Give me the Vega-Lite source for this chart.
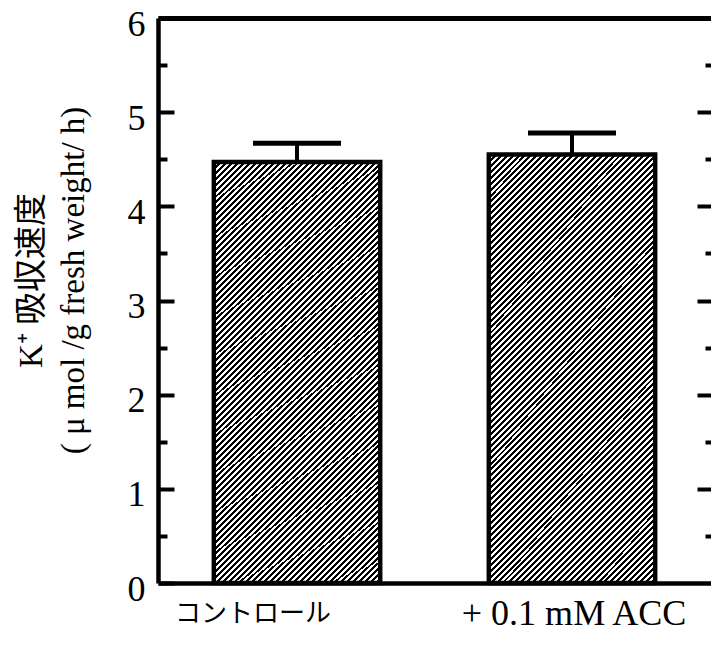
{
"$schema": "https://vega.github.io/schema/vega-lite/v6.json",
"autosize": {"type": "none"},
"width": 553,
"height": 565,
"padding": {"left": 158, "top": 18, "right": 0, "bottom": 62},
"background": "white",
"config": {"view": {"stroke": null}, "axis": {"labelFont": "Liberation Serif, Noto Sans CJK JP", "titleFont": "Liberation Serif, Noto Sans CJK JP", "labelColor": "black", "titleColor": "black", "domainColor": "black", "tickColor": "black", "grid": false}},
"data": {"values": [
  {"cond": "コントロール", "mean": 4.47, "upper": 4.67},
  {"cond": "+ 0.1 mM ACC", "mean": 4.55, "upper": 4.78}
]},
"layer": [
 {"mark": {"type": "bar", "stroke": "black", "strokeWidth": 4.5,
   "fill": {"gradient": "linear", "x1": 0, "y1": 0, "x2": 0.47, "y2": 1.207, "stops": [
{"offset":0,"color":"#000"},{"offset":0.005,"color":"#000"},{"offset":0.005,"color":"#fff"},{"offset":0.01,"color":"#fff"},
{"offset":0.01,"color":"#000"},{"offset":0.015,"color":"#000"},{"offset":0.015,"color":"#fff"},{"offset":0.02,"color":"#fff"},
{"offset":0.02,"color":"#000"},{"offset":0.025,"color":"#000"},{"offset":0.025,"color":"#fff"},{"offset":0.03,"color":"#fff"},
{"offset":0.03,"color":"#000"},{"offset":0.035,"color":"#000"},{"offset":0.035,"color":"#fff"},{"offset":0.04,"color":"#fff"},
{"offset":0.04,"color":"#000"},{"offset":0.045,"color":"#000"},{"offset":0.045,"color":"#fff"},{"offset":0.05,"color":"#fff"},
{"offset":0.05,"color":"#000"},{"offset":0.055,"color":"#000"},{"offset":0.055,"color":"#fff"},{"offset":0.06,"color":"#fff"},
{"offset":0.06,"color":"#000"},{"offset":0.065,"color":"#000"},{"offset":0.065,"color":"#fff"},{"offset":0.07,"color":"#fff"},
{"offset":0.07,"color":"#000"},{"offset":0.075,"color":"#000"},{"offset":0.075,"color":"#fff"},{"offset":0.08,"color":"#fff"},
{"offset":0.08,"color":"#000"},{"offset":0.085,"color":"#000"},{"offset":0.085,"color":"#fff"},{"offset":0.09,"color":"#fff"},
{"offset":0.09,"color":"#000"},{"offset":0.095,"color":"#000"},{"offset":0.095,"color":"#fff"},{"offset":0.1,"color":"#fff"},
{"offset":0.1,"color":"#000"},{"offset":0.105,"color":"#000"},{"offset":0.105,"color":"#fff"},{"offset":0.11,"color":"#fff"},
{"offset":0.11,"color":"#000"},{"offset":0.115,"color":"#000"},{"offset":0.115,"color":"#fff"},{"offset":0.12,"color":"#fff"},
{"offset":0.12,"color":"#000"},{"offset":0.125,"color":"#000"},{"offset":0.125,"color":"#fff"},{"offset":0.13,"color":"#fff"},
{"offset":0.13,"color":"#000"},{"offset":0.135,"color":"#000"},{"offset":0.135,"color":"#fff"},{"offset":0.14,"color":"#fff"},
{"offset":0.14,"color":"#000"},{"offset":0.145,"color":"#000"},{"offset":0.145,"color":"#fff"},{"offset":0.15,"color":"#fff"},
{"offset":0.15,"color":"#000"},{"offset":0.155,"color":"#000"},{"offset":0.155,"color":"#fff"},{"offset":0.16,"color":"#fff"},
{"offset":0.16,"color":"#000"},{"offset":0.165,"color":"#000"},{"offset":0.165,"color":"#fff"},{"offset":0.17,"color":"#fff"},
{"offset":0.17,"color":"#000"},{"offset":0.175,"color":"#000"},{"offset":0.175,"color":"#fff"},{"offset":0.18,"color":"#fff"},
{"offset":0.18,"color":"#000"},{"offset":0.185,"color":"#000"},{"offset":0.185,"color":"#fff"},{"offset":0.19,"color":"#fff"},
{"offset":0.19,"color":"#000"},{"offset":0.195,"color":"#000"},{"offset":0.195,"color":"#fff"},{"offset":0.2,"color":"#fff"},
{"offset":0.2,"color":"#000"},{"offset":0.205,"color":"#000"},{"offset":0.205,"color":"#fff"},{"offset":0.21,"color":"#fff"},
{"offset":0.21,"color":"#000"},{"offset":0.215,"color":"#000"},{"offset":0.215,"color":"#fff"},{"offset":0.22,"color":"#fff"},
{"offset":0.22,"color":"#000"},{"offset":0.225,"color":"#000"},{"offset":0.225,"color":"#fff"},{"offset":0.23,"color":"#fff"},
{"offset":0.23,"color":"#000"},{"offset":0.235,"color":"#000"},{"offset":0.235,"color":"#fff"},{"offset":0.24,"color":"#fff"},
{"offset":0.24,"color":"#000"},{"offset":0.245,"color":"#000"},{"offset":0.245,"color":"#fff"},{"offset":0.25,"color":"#fff"},
{"offset":0.25,"color":"#000"},{"offset":0.255,"color":"#000"},{"offset":0.255,"color":"#fff"},{"offset":0.26,"color":"#fff"},
{"offset":0.26,"color":"#000"},{"offset":0.265,"color":"#000"},{"offset":0.265,"color":"#fff"},{"offset":0.27,"color":"#fff"},
{"offset":0.27,"color":"#000"},{"offset":0.275,"color":"#000"},{"offset":0.275,"color":"#fff"},{"offset":0.28,"color":"#fff"},
{"offset":0.28,"color":"#000"},{"offset":0.285,"color":"#000"},{"offset":0.285,"color":"#fff"},{"offset":0.29,"color":"#fff"},
{"offset":0.29,"color":"#000"},{"offset":0.295,"color":"#000"},{"offset":0.295,"color":"#fff"},{"offset":0.3,"color":"#fff"},
{"offset":0.3,"color":"#000"},{"offset":0.305,"color":"#000"},{"offset":0.305,"color":"#fff"},{"offset":0.31,"color":"#fff"},
{"offset":0.31,"color":"#000"},{"offset":0.315,"color":"#000"},{"offset":0.315,"color":"#fff"},{"offset":0.32,"color":"#fff"},
{"offset":0.32,"color":"#000"},{"offset":0.325,"color":"#000"},{"offset":0.325,"color":"#fff"},{"offset":0.33,"color":"#fff"},
{"offset":0.33,"color":"#000"},{"offset":0.335,"color":"#000"},{"offset":0.335,"color":"#fff"},{"offset":0.34,"color":"#fff"},
{"offset":0.34,"color":"#000"},{"offset":0.345,"color":"#000"},{"offset":0.345,"color":"#fff"},{"offset":0.35,"color":"#fff"},
{"offset":0.35,"color":"#000"},{"offset":0.355,"color":"#000"},{"offset":0.355,"color":"#fff"},{"offset":0.36,"color":"#fff"},
{"offset":0.36,"color":"#000"},{"offset":0.365,"color":"#000"},{"offset":0.365,"color":"#fff"},{"offset":0.37,"color":"#fff"},
{"offset":0.37,"color":"#000"},{"offset":0.375,"color":"#000"},{"offset":0.375,"color":"#fff"},{"offset":0.38,"color":"#fff"},
{"offset":0.38,"color":"#000"},{"offset":0.385,"color":"#000"},{"offset":0.385,"color":"#fff"},{"offset":0.39,"color":"#fff"},
{"offset":0.39,"color":"#000"},{"offset":0.395,"color":"#000"},{"offset":0.395,"color":"#fff"},{"offset":0.4,"color":"#fff"},
{"offset":0.4,"color":"#000"},{"offset":0.405,"color":"#000"},{"offset":0.405,"color":"#fff"},{"offset":0.41,"color":"#fff"},
{"offset":0.41,"color":"#000"},{"offset":0.415,"color":"#000"},{"offset":0.415,"color":"#fff"},{"offset":0.42,"color":"#fff"},
{"offset":0.42,"color":"#000"},{"offset":0.425,"color":"#000"},{"offset":0.425,"color":"#fff"},{"offset":0.43,"color":"#fff"},
{"offset":0.43,"color":"#000"},{"offset":0.435,"color":"#000"},{"offset":0.435,"color":"#fff"},{"offset":0.44,"color":"#fff"},
{"offset":0.44,"color":"#000"},{"offset":0.445,"color":"#000"},{"offset":0.445,"color":"#fff"},{"offset":0.45,"color":"#fff"},
{"offset":0.45,"color":"#000"},{"offset":0.455,"color":"#000"},{"offset":0.455,"color":"#fff"},{"offset":0.46,"color":"#fff"},
{"offset":0.46,"color":"#000"},{"offset":0.465,"color":"#000"},{"offset":0.465,"color":"#fff"},{"offset":0.47,"color":"#fff"},
{"offset":0.47,"color":"#000"},{"offset":0.475,"color":"#000"},{"offset":0.475,"color":"#fff"},{"offset":0.48,"color":"#fff"},
{"offset":0.48,"color":"#000"},{"offset":0.485,"color":"#000"},{"offset":0.485,"color":"#fff"},{"offset":0.49,"color":"#fff"},
{"offset":0.49,"color":"#000"},{"offset":0.495,"color":"#000"},{"offset":0.495,"color":"#fff"},{"offset":0.5,"color":"#fff"},
{"offset":0.5,"color":"#000"},{"offset":0.505,"color":"#000"},{"offset":0.505,"color":"#fff"},{"offset":0.51,"color":"#fff"},
{"offset":0.51,"color":"#000"},{"offset":0.515,"color":"#000"},{"offset":0.515,"color":"#fff"},{"offset":0.52,"color":"#fff"},
{"offset":0.52,"color":"#000"},{"offset":0.525,"color":"#000"},{"offset":0.525,"color":"#fff"},{"offset":0.53,"color":"#fff"},
{"offset":0.53,"color":"#000"},{"offset":0.535,"color":"#000"},{"offset":0.535,"color":"#fff"},{"offset":0.54,"color":"#fff"},
{"offset":0.54,"color":"#000"},{"offset":0.545,"color":"#000"},{"offset":0.545,"color":"#fff"},{"offset":0.55,"color":"#fff"},
{"offset":0.55,"color":"#000"},{"offset":0.555,"color":"#000"},{"offset":0.555,"color":"#fff"},{"offset":0.56,"color":"#fff"},
{"offset":0.56,"color":"#000"},{"offset":0.565,"color":"#000"},{"offset":0.565,"color":"#fff"},{"offset":0.57,"color":"#fff"},
{"offset":0.57,"color":"#000"},{"offset":0.575,"color":"#000"},{"offset":0.575,"color":"#fff"},{"offset":0.58,"color":"#fff"},
{"offset":0.58,"color":"#000"},{"offset":0.585,"color":"#000"},{"offset":0.585,"color":"#fff"},{"offset":0.59,"color":"#fff"},
{"offset":0.59,"color":"#000"},{"offset":0.595,"color":"#000"},{"offset":0.595,"color":"#fff"},{"offset":0.6,"color":"#fff"},
{"offset":0.6,"color":"#000"},{"offset":0.605,"color":"#000"},{"offset":0.605,"color":"#fff"},{"offset":0.61,"color":"#fff"},
{"offset":0.61,"color":"#000"},{"offset":0.615,"color":"#000"},{"offset":0.615,"color":"#fff"},{"offset":0.62,"color":"#fff"},
{"offset":0.62,"color":"#000"},{"offset":0.625,"color":"#000"},{"offset":0.625,"color":"#fff"},{"offset":0.63,"color":"#fff"},
{"offset":0.63,"color":"#000"},{"offset":0.635,"color":"#000"},{"offset":0.635,"color":"#fff"},{"offset":0.64,"color":"#fff"},
{"offset":0.64,"color":"#000"},{"offset":0.645,"color":"#000"},{"offset":0.645,"color":"#fff"},{"offset":0.65,"color":"#fff"},
{"offset":0.65,"color":"#000"},{"offset":0.655,"color":"#000"},{"offset":0.655,"color":"#fff"},{"offset":0.66,"color":"#fff"},
{"offset":0.66,"color":"#000"},{"offset":0.665,"color":"#000"},{"offset":0.665,"color":"#fff"},{"offset":0.67,"color":"#fff"},
{"offset":0.67,"color":"#000"},{"offset":0.675,"color":"#000"},{"offset":0.675,"color":"#fff"},{"offset":0.68,"color":"#fff"},
{"offset":0.68,"color":"#000"},{"offset":0.685,"color":"#000"},{"offset":0.685,"color":"#fff"},{"offset":0.69,"color":"#fff"},
{"offset":0.69,"color":"#000"},{"offset":0.695,"color":"#000"},{"offset":0.695,"color":"#fff"},{"offset":0.7,"color":"#fff"},
{"offset":0.7,"color":"#000"},{"offset":0.705,"color":"#000"},{"offset":0.705,"color":"#fff"},{"offset":0.71,"color":"#fff"},
{"offset":0.71,"color":"#000"},{"offset":0.715,"color":"#000"},{"offset":0.715,"color":"#fff"},{"offset":0.72,"color":"#fff"},
{"offset":0.72,"color":"#000"},{"offset":0.725,"color":"#000"},{"offset":0.725,"color":"#fff"},{"offset":0.73,"color":"#fff"},
{"offset":0.73,"color":"#000"},{"offset":0.735,"color":"#000"},{"offset":0.735,"color":"#fff"},{"offset":0.74,"color":"#fff"},
{"offset":0.74,"color":"#000"},{"offset":0.745,"color":"#000"},{"offset":0.745,"color":"#fff"},{"offset":0.75,"color":"#fff"},
{"offset":0.75,"color":"#000"},{"offset":0.755,"color":"#000"},{"offset":0.755,"color":"#fff"},{"offset":0.76,"color":"#fff"},
{"offset":0.76,"color":"#000"},{"offset":0.765,"color":"#000"},{"offset":0.765,"color":"#fff"},{"offset":0.77,"color":"#fff"},
{"offset":0.77,"color":"#000"},{"offset":0.775,"color":"#000"},{"offset":0.775,"color":"#fff"},{"offset":0.78,"color":"#fff"},
{"offset":0.78,"color":"#000"},{"offset":0.785,"color":"#000"},{"offset":0.785,"color":"#fff"},{"offset":0.79,"color":"#fff"},
{"offset":0.79,"color":"#000"},{"offset":0.795,"color":"#000"},{"offset":0.795,"color":"#fff"},{"offset":0.8,"color":"#fff"},
{"offset":0.8,"color":"#000"},{"offset":0.805,"color":"#000"},{"offset":0.805,"color":"#fff"},{"offset":0.81,"color":"#fff"},
{"offset":0.81,"color":"#000"},{"offset":0.815,"color":"#000"},{"offset":0.815,"color":"#fff"},{"offset":0.82,"color":"#fff"},
{"offset":0.82,"color":"#000"},{"offset":0.825,"color":"#000"},{"offset":0.825,"color":"#fff"},{"offset":0.83,"color":"#fff"},
{"offset":0.83,"color":"#000"},{"offset":0.835,"color":"#000"},{"offset":0.835,"color":"#fff"},{"offset":0.84,"color":"#fff"},
{"offset":0.84,"color":"#000"},{"offset":0.845,"color":"#000"},{"offset":0.845,"color":"#fff"},{"offset":0.85,"color":"#fff"},
{"offset":0.85,"color":"#000"},{"offset":0.855,"color":"#000"},{"offset":0.855,"color":"#fff"},{"offset":0.86,"color":"#fff"},
{"offset":0.86,"color":"#000"},{"offset":0.865,"color":"#000"},{"offset":0.865,"color":"#fff"},{"offset":0.87,"color":"#fff"},
{"offset":0.87,"color":"#000"},{"offset":0.875,"color":"#000"},{"offset":0.875,"color":"#fff"},{"offset":0.88,"color":"#fff"},
{"offset":0.88,"color":"#000"},{"offset":0.885,"color":"#000"},{"offset":0.885,"color":"#fff"},{"offset":0.89,"color":"#fff"},
{"offset":0.89,"color":"#000"},{"offset":0.895,"color":"#000"},{"offset":0.895,"color":"#fff"},{"offset":0.9,"color":"#fff"},
{"offset":0.9,"color":"#000"},{"offset":0.905,"color":"#000"},{"offset":0.905,"color":"#fff"},{"offset":0.91,"color":"#fff"},
{"offset":0.91,"color":"#000"},{"offset":0.915,"color":"#000"},{"offset":0.915,"color":"#fff"},{"offset":0.92,"color":"#fff"},
{"offset":0.92,"color":"#000"},{"offset":0.925,"color":"#000"},{"offset":0.925,"color":"#fff"},{"offset":0.93,"color":"#fff"},
{"offset":0.93,"color":"#000"},{"offset":0.935,"color":"#000"},{"offset":0.935,"color":"#fff"},{"offset":0.94,"color":"#fff"},
{"offset":0.94,"color":"#000"},{"offset":0.945,"color":"#000"},{"offset":0.945,"color":"#fff"},{"offset":0.95,"color":"#fff"},
{"offset":0.95,"color":"#000"},{"offset":0.955,"color":"#000"},{"offset":0.955,"color":"#fff"},{"offset":0.96,"color":"#fff"},
{"offset":0.96,"color":"#000"},{"offset":0.965,"color":"#000"},{"offset":0.965,"color":"#fff"},{"offset":0.97,"color":"#fff"},
{"offset":0.97,"color":"#000"},{"offset":0.975,"color":"#000"},{"offset":0.975,"color":"#fff"},{"offset":0.98,"color":"#fff"},
{"offset":0.98,"color":"#000"},{"offset":0.985,"color":"#000"},{"offset":0.985,"color":"#fff"},{"offset":0.99,"color":"#fff"},
{"offset":0.99,"color":"#000"},{"offset":0.995,"color":"#000"},{"offset":0.995,"color":"#fff"},{"offset":1,"color":"#fff"}
   ]}},
  "encoding": {
   "x": {"field": "cond", "type": "nominal", "sort": null,
     "scale": {"paddingInner": 0.395, "paddingOuter": 0.203},
     "axis": {"orient": "bottom", "title": null, "domainWidth": 4.5, "ticks": false, "labelAngle": 0, "labelLimit": 0,
       "labelFontSize": {"condition": {"test": "datum.value === 'コントロール'", "value": 26}, "value": 36},
       "labelOffset": {"condition": {"test": "datum.value === 'コントロール'", "value": -44}, "value": 2},
       "labelBaseline": "middle", "labelPadding": 30}},
   "y": {"field": "mean", "type": "quantitative", "scale": {"domain": [0, 6], "nice": false},
     "axis": {"orient": "left", "values": [0, 0.5, 1, 1.5, 2, 2.5, 3, 3.5, 4, 4.5, 5, 5.5, 6],
       "labelExpr": "datum.value % 1 === 0 ? format(datum.value, 'd') : ''",
       "labelFontSize": 36, "labelPadding": 29, "labelOffset": 6, "labelFlush": false,
       "domainWidth": 4.5, "tickWidth": 4,
       "tickSize": {"condition": {"test": "datum.value % 1 === 0", "value": -16}, "value": -9},
       "title": ["K⁺ 吸収速度", "( μ mol /g fresh weight/ h)"],
       "titleFontSize": 33, "titleFontWeight": "normal", "titleLineHeight": 42,
       "titleAngle": -90, "titleAlign": "center", "titleBaseline": "middle",
       "titleX": -127, "titleY": 262}}
  }},
 {"mark": {"type": "rule", "strokeWidth": 4, "color": "black"},
  "encoding": {
   "x": {"field": "cond", "type": "nominal", "sort": null,
     "axis": {"orient": "top", "title": null, "labels": false, "ticks": false, "domainWidth": 5}},
   "y": {"field": "mean", "type": "quantitative",
     "axis": {"orient": "right", "title": null, "labels": false, "domain": false,
       "values": [0.5, 1, 1.5, 2, 2.5, 3, 3.5, 4, 4.5, 5, 5.5], "tickWidth": 4,
       "tickSize": {"condition": {"test": "datum.value % 1 === 0", "value": -14}, "value": -6}}},
   "y2": {"field": "upper"}
  }},
 {"mark": {"type": "tick", "color": "black", "thickness": 5, "size": 88, "opacity": 1},
  "encoding": {
   "x": {"field": "cond", "type": "nominal", "sort": null, "axis": null},
   "y": {"field": "upper", "type": "quantitative", "axis": null}
  }}
],
"resolve": {"axis": {"x": "independent", "y": "independent"}}
}
